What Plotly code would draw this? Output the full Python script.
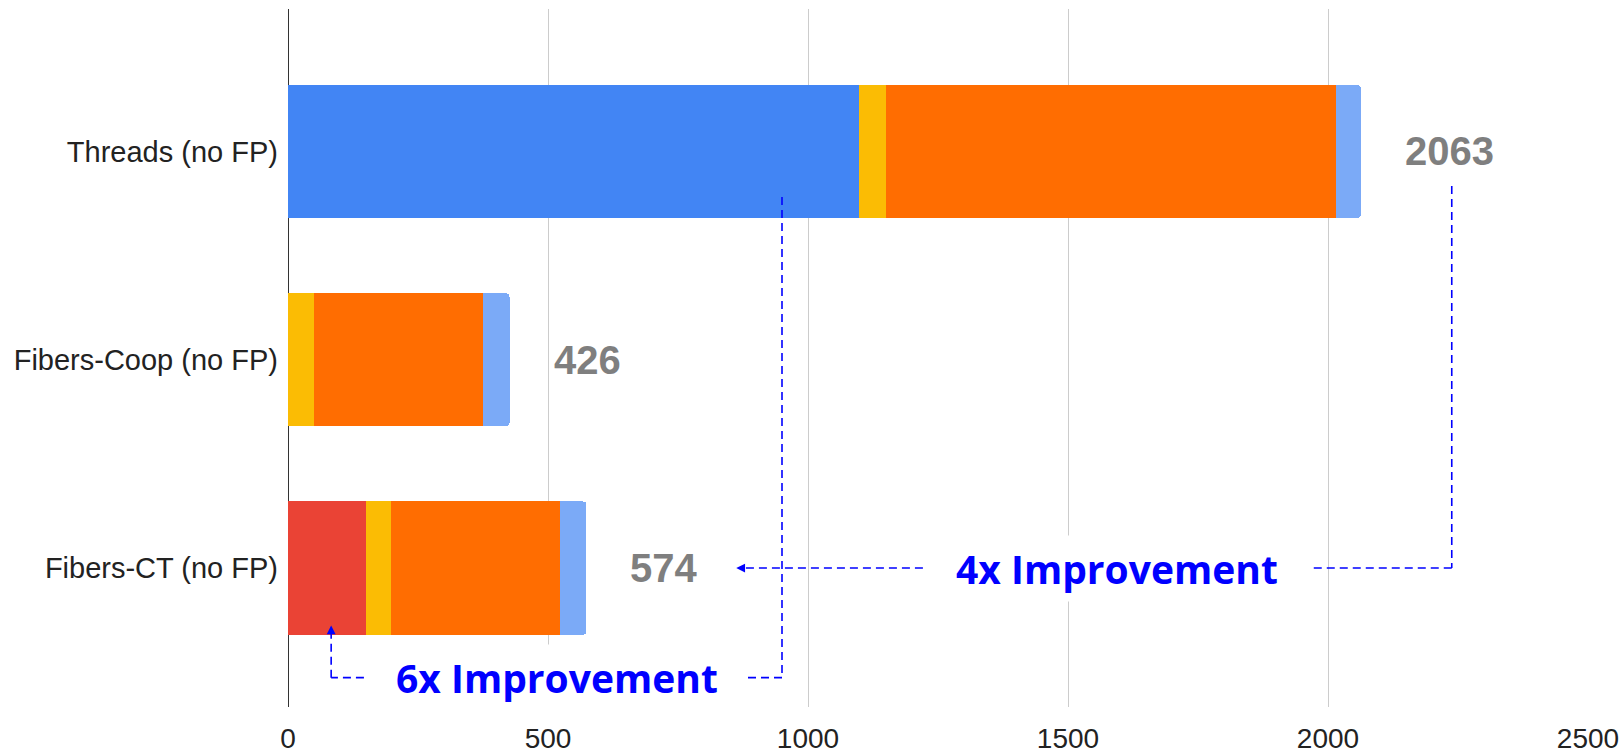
import plotly.graph_objects as go

# Per-configuration time breakdown (stacked), top row first in the chart
categories = ["Fibers-CT (no FP)", "Fibers-Coop (no FP)", "Threads (no FP)"]
kernel_switch = [0, 0, 1099]     # blue, threads only
ct_overhead = [150, 0, 0]        # red, Fibers-CT only
sync = [48, 50, 51]              # yellow
work = [326, 325, 866]           # orange
other = [50, 51, 47]             # light blue
totals = [574, 426, 2063]

x_ticks = [0, 500, 1000, 1500, 2000, 2500]

series = [
    ("Kernel switch", kernel_switch, "#4285F4"),
    ("Cooperative-threads overhead", ct_overhead, "#EA4335"),
    ("Synchronization", sync, "#FBBC04"),
    ("Work", work, "#FF6D01"),
    ("Other", other, "#7BAAF7"),
]

ypos = list(range(len(categories)))

fig = go.Figure()
for name, vals, color in series:
    fig.add_trace(go.Bar(
        name=name, y=ypos, x=vals, orientation="h",
        marker=dict(color=color, line=dict(width=0)),
        width=0.64, hoverinfo="x+name",
    ))

LABEL_FONT = "Liberation Sans, Arial, sans-serif"
BLUE = "#0000ff"

annotations = []
# total value labels to the right of each stack
for y, t in zip(ypos, totals):
    annotations.append(dict(
        x=t, y=y, xref="x", yref="y", text=f"<b>{t}</b>",
        showarrow=False, xanchor="left", xshift=42,
        font=dict(family=LABEL_FONT, size=40, color="#7f7f7f"),
    ))

# improvement callouts
TEXT_FONT = dict(family="Open Sans, sans-serif", size=39, color=BLUE)
annotations.append(dict(
    x=1595, y=0, xref="x", yref="y", text="<b>4x Improvement</b>",
    showarrow=False, font=TEXT_FONT, bgcolor="white", borderpad=6,
))
annotations.append(dict(
    x=517, y=-0.526, xref="x", yref="y", text="<b>6x Improvement</b>",
    showarrow=False, font=TEXT_FONT, bgcolor="white", borderpad=6,
))
# arrow heads
annotations.append(dict(
    x=862, y=0, xref="x", yref="y", text="", showarrow=True,
    ax=10, ay=0, arrowhead=2, arrowsize=1.1, arrowwidth=1.6, arrowcolor=BLUE,
))
annotations.append(dict(
    x=83, y=-0.276, xref="x", yref="y", text="", showarrow=True,
    ax=0, ay=10, arrowhead=2, arrowsize=1.1, arrowwidth=1.6, arrowcolor=BLUE,
))

DASH = dict(color=BLUE, width=1.6, dash="8px,5px")
segments = [
    # 4x: from Threads total down and left to Fibers-CT total
    (2238, 1.834, 2238, 0),
    (2238, 0, 1967, 0),
    (1221, 0, 872, 0),
    # 6x: from Threads kernel-switch share down and left to Fibers-CT overhead
    (950, 1.782, 950, -0.526),
    (950, -0.526, 884, -0.526),
    (146, -0.526, 83, -0.526),
    (83, -0.526, 83, -0.29),
]
shapes = [
    dict(type="line", xref="x", yref="y", x0=a, y0=b, x1=c, y1=d, line=DASH)
    for a, b, c, d in segments
]

fig.update_layout(
    barmode="stack",
    barcornerradius=4,
    width=1621, height=754,
    margin=dict(l=288, r=33, t=9, b=47),
    paper_bgcolor="white", plot_bgcolor="white",
    showlegend=False,
    annotations=annotations,
    shapes=shapes,
    font=dict(family=LABEL_FONT, size=29, color="#222222"),
    xaxis=dict(
        range=[0, 2500], tickvals=x_ticks, showgrid=True,
        gridcolor="#cccccc", gridwidth=1,
        zeroline=True, zerolinecolor="#333333", zerolinewidth=1.2,
        showline=False, ticks="", ticklabelstandoff=12,
        tickfont=dict(size=28, color="#222222"),
        automargin=False, fixedrange=True,
    ),
    yaxis=dict(
        range=[-0.667, 2.684], tickvals=ypos, ticktext=categories,
        showgrid=False, zeroline=False, showline=False, ticks="",
        ticklabelstandoff=9,
        tickfont=dict(size=29, color="#222222"),
        automargin=False, fixedrange=True,
    ),
)

fig.write_html("out.html")
